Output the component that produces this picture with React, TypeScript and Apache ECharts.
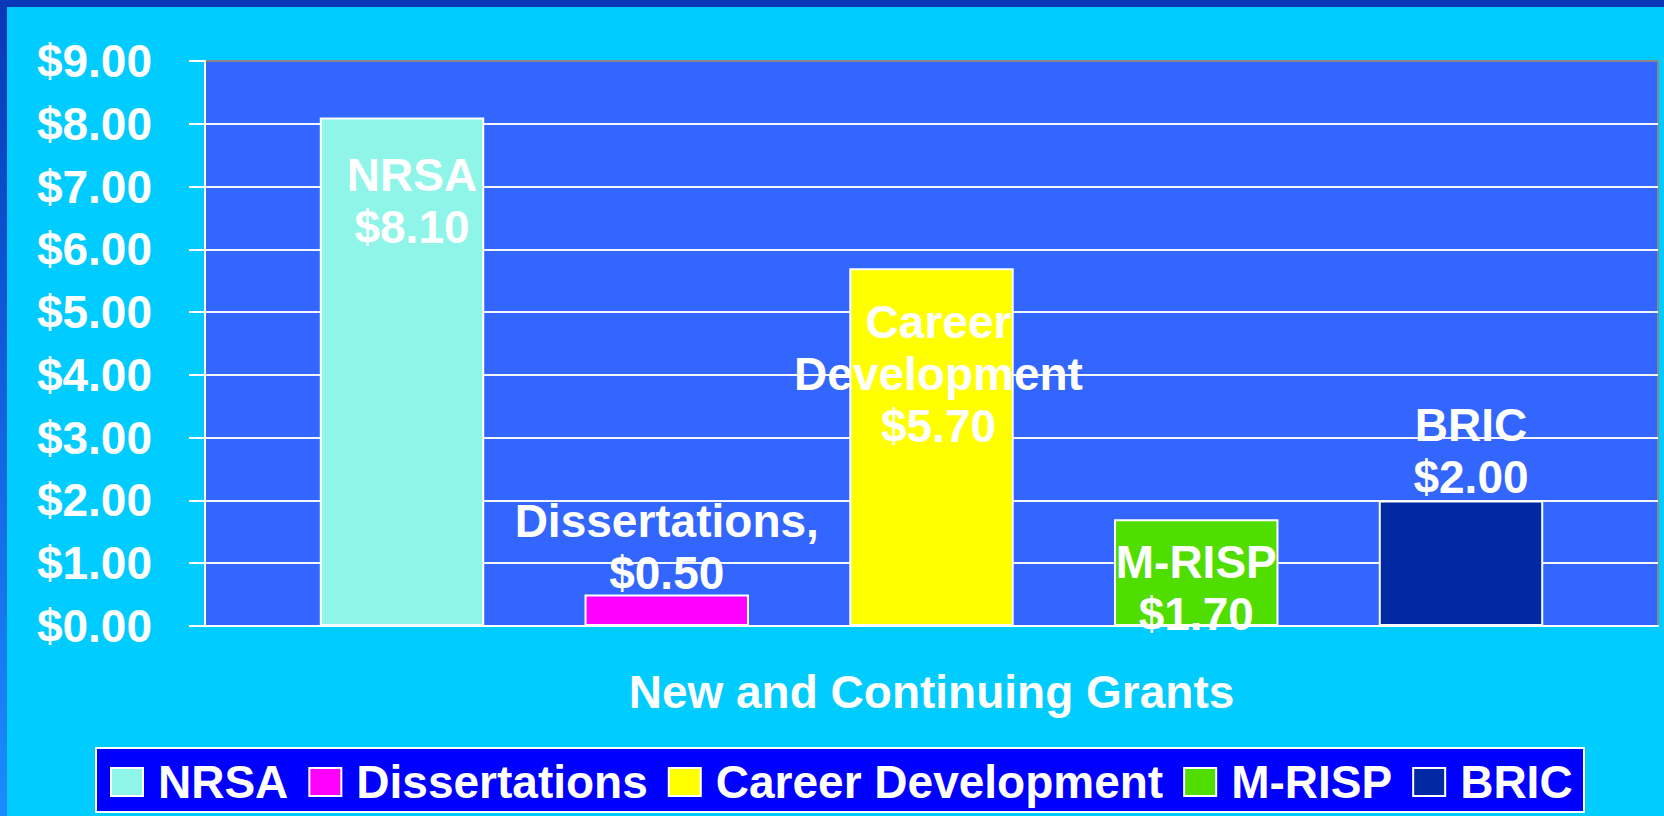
import React, { useEffect, useRef } from "react";
import * as echarts from "echarts";

const categories = ["New and Continuing Grants"];
const seriesNames = ["NRSA", "Dissertations", "Career Development", "M-RISP", "BRIC"];
const seriesValues = [8.1, 0.5, 5.7, 1.7, 2.0];
const labelLines = [
  ["NRSA", "$8.10"],
  ["Dissertations,", "$0.50"],
  ["Career", "Development", "$5.70"],
  ["M-RISP", "$1.70"],
  ["BRIC", "$2.00"],
];
const seriesColors = ["#8ff5e8", "#ff00ff", "#ffff00", "#50dd00", "#0029a3"];
const yMin = 0;
const yMax = 9;
const yInterval = 1;

const FONT = "'Liberation Sans', Arial, Helvetica, sans-serif";

const labelLayouts: any[] = [
  { position: "insideTop", distance: 31, offset: [10, 0] },
  { position: "top", distance: -4 },
  { position: "insideTop", distance: 28, offset: [7, 0] },
  { position: "insideTop", distance: 17 },
  { position: "top", distance: -3, offset: [10, 0] },
];

export default function App() {
  const ref = useRef<HTMLDivElement>(null);
  useEffect(() => {
    if (!ref.current) return;
    const chart = echarts.init(ref.current, undefined, { renderer: "svg" });
    const option: any = {
      animation: false,
      backgroundColor: "#00ccff",
      textStyle: { fontFamily: FONT },
      graphic: [
        {
          type: "rect",
          shape: { x: 0, y: 0, width: 1664, height: 7 },
          style: { fill: "#0838b8" },
        },
        {
          type: "rect",
          shape: { x: 0, y: 0, width: 7, height: 816 },
          style: {
            fill: new echarts.graphic.LinearGradient(0, 0, 0, 1, [
              { offset: 0, color: "#0838b8" },
              { offset: 1, color: "#1a8cff" },
            ]),
          },
        },
        {
          type: "rect",
          shape: { x: 96, y: 748, width: 1488, height: 64 },
          style: { fill: "#0000ff", stroke: "#ffffff", lineWidth: 2 },
        },
      ],
      grid: {
        left: 205,
        top: 61,
        right: 6,
        bottom: 190,
        show: true,
        backgroundColor: "#3366ff",
        borderColor: "#888888",
        borderWidth: 2,
      },
      legend: {
        left: 110,
        top: 759,
        padding: 0,
        itemWidth: 32,
        itemHeight: 28,
        itemGap: 20,
        icon: "rect",
        data: seriesNames,
        textStyle: {
          color: "#ffffff",
          fontSize: 46,
          fontWeight: "bold",
          fontFamily: FONT,
          lineHeight: 46,
          padding: [0, 0, 0, 10],
        },
      },
      xAxis: {
        type: "category",
        data: categories,
        axisLine: { show: true, lineStyle: { color: "#ffffff", width: 2 } },
        axisTick: { show: false },
        axisLabel: {
          color: "#ffffff",
          fontSize: 46,
          fontWeight: "bold",
          fontFamily: FONT,
          lineHeight: 46,
          margin: 43,
        },
        splitLine: { show: false },
      },
      yAxis: {
        type: "value",
        min: yMin,
        max: yMax,
        interval: yInterval,
        axisLine: { show: true, lineStyle: { color: "#ffffff", width: 2 } },
        axisTick: { show: true, length: 16, lineStyle: { color: "#ffffff", width: 2 } },
        axisLabel: {
          color: "#ffffff",
          fontSize: 46,
          fontWeight: "bold",
          fontFamily: FONT,
          margin: 53,
          formatter: (v: number) => "$" + v.toFixed(2),
        },
        splitLine: {
          show: true,
          showMinLine: false,
          showMaxLine: false,
          lineStyle: { color: "#f2f4ff", width: 2 },
        },
      },
      series: seriesNames.map((name, i) => ({
        name,
        type: "bar",
        data: [seriesValues[i]],
        barCategoryGap: "15.8%",
        barGap: "61%",
        itemStyle: { color: seriesColors[i], borderColor: "#ffffff", borderWidth: 2 },
        label: {
          show: true,
          ...labelLayouts[i],
          formatter: () => labelLines[i].join("\n"),
          color: "#ffffff",
          fontSize: 46,
          fontWeight: "bold",
          fontFamily: FONT,
          lineHeight: 52,
          align: "center",
        },
      })),
    };
    chart.setOption(option);
    return () => chart.dispose();
  }, []);
  return (
    <div
      ref={ref}
      style={{ position: "fixed", left: 0, top: 0, width: "1664px", height: "816px" }}
    />
  );
}
